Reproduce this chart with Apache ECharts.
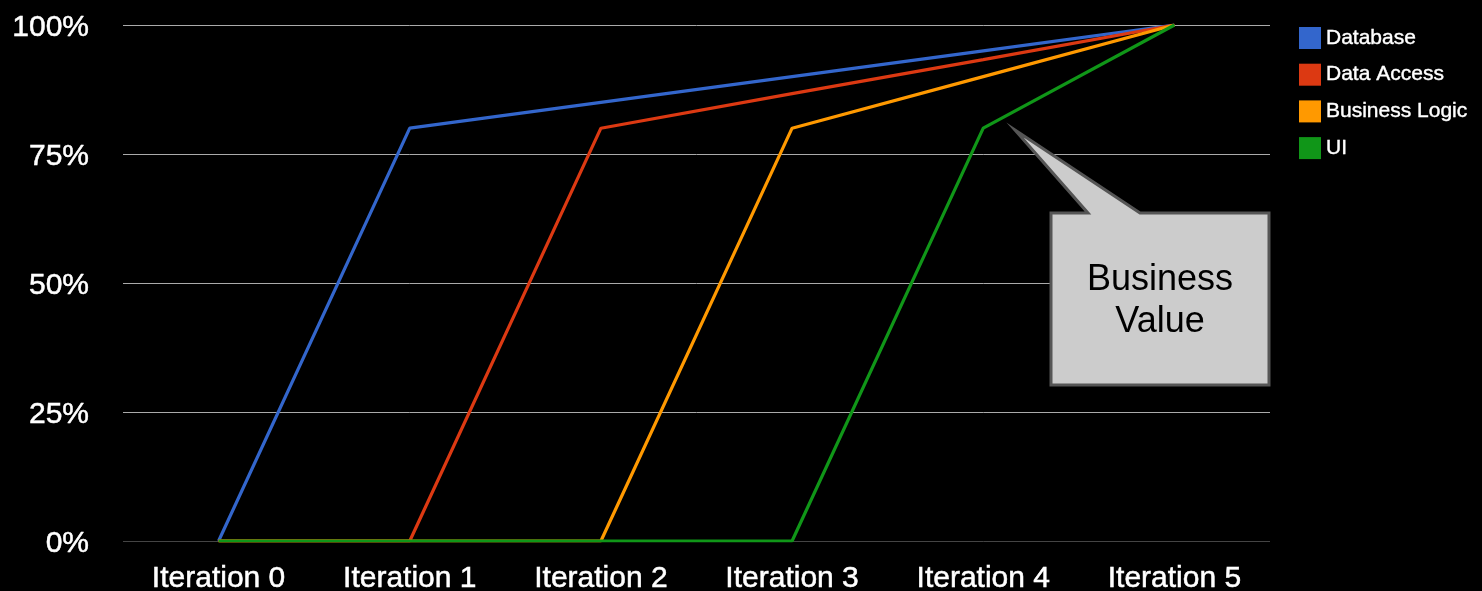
<!DOCTYPE html>
<html>
<head>
<meta charset="utf-8">
<script src="https://cdn.jsdelivr.net/npm/echarts@6/dist/echarts.min.js"></script>
<style>
  html, body { margin: 0; padding: 0; background: #000; }
  #chart { width: 1482px; height: 591px; }
</style>
</head>
<body>
<div id="chart"></div>
<script>
// Completion of each layer across the iterations (percent)
const iterations = ['Iteration 0', 'Iteration 1', 'Iteration 2', 'Iteration 3', 'Iteration 4', 'Iteration 5'];
const database      = [0, 80, 85, 90, 95, 100];
const dataAccess    = [0, 0, 80, 86.7, 93.3, 100];
const businessLogic = [0, 0, 0, 80, 90, 100];
const ui            = [0, 0, 0, 0, 80, 100];
const seriesNames = ['Database', 'Data Access', 'Business Logic', 'UI'];
const calloutText = 'Business\nValue';

const colors = ['#3366cc', '#dc3912', '#ff9900', '#109618'];
const font = '"Liberation Sans", Arial, sans-serif';

const chart = echarts.init(document.getElementById('chart'));

function lineSeries(name, data, color) {
  return {
    name: name,
    type: 'line',
    data: data,
    symbol: 'none',
    lineStyle: { width: 3.2, color: color },
    itemStyle: { color: color },
    animation: false
  };
}

// Speech-bubble callout pointing at the UI line
const calloutShape = [
  [1015, 130], [1140, 213], [1269, 213], [1269, 385],
  [1051, 385], [1051, 213], [1088, 213]
];

chart.setOption({
  backgroundColor: '#000',
  animation: false,
  color: colors,
  grid: { left: 123, right: 212, top: 25, bottom: 50, containLabel: false, outerBoundsMode: 'none' },
  legend: {
    orient: 'vertical',
    left: 1294,
    top: 22,
    icon: 'rect',
    itemWidth: 22,
    itemHeight: 22,
    itemGap: 14.7,
    textStyle: {
      color: '#fff', fontSize: 21, fontFamily: font,
      textBorderColor: '#fff', textBorderWidth: 0.4
    },
    data: seriesNames
  },
  xAxis: {
    type: 'category',
    data: iterations,
    boundaryGap: true,
    axisLine: { show: false },
    axisTick: { show: false },
    axisLabel: {
      color: '#fff', fontSize: 30, fontFamily: font, margin: 23,
      textBorderColor: '#fff', textBorderWidth: 0.5
    }
  },
  yAxis: {
    type: 'value',
    min: 0,
    max: 100,
    interval: 25,
    axisLine: { show: false },
    axisTick: { show: false },
    axisLabel: {
      margin: 34,
      formatter: v => '{p|' + v + '%}',
      rich: {
        p: {
          color: '#fff', fontSize: 30, fontFamily: font,
          textBorderColor: '#fff', textBorderWidth: 0.5,
          padding: [5, 0, 0, 0]
        }
      }
    },
    splitLine: { lineStyle: { color: ['#444', '#aaa', '#aaa', '#aaa', '#aaa'], width: 1 } }
  },
  series: [
    lineSeries(seriesNames[0], database, colors[0]),
    lineSeries(seriesNames[1], dataAccess, colors[1]),
    lineSeries(seriesNames[2], businessLogic, colors[2]),
    lineSeries(seriesNames[3], ui, colors[3])
  ],
  graphic: [
    {
      type: 'polygon',
      shape: { points: calloutShape },
      style: { fill: '#cccccc', stroke: '#555555', lineWidth: 3, lineJoin: 'miter' },
      z: 100
    },
    {
      type: 'text',
      x: 1160,
      y: 301,
      style: {
        text: calloutText,
        align: 'center',
        verticalAlign: 'middle',
        fill: '#000',
        fontSize: 36,
        lineHeight: 42,
        fontFamily: font
      },
      z: 101
    }
  ]
});
</script>
</body>
</html>
